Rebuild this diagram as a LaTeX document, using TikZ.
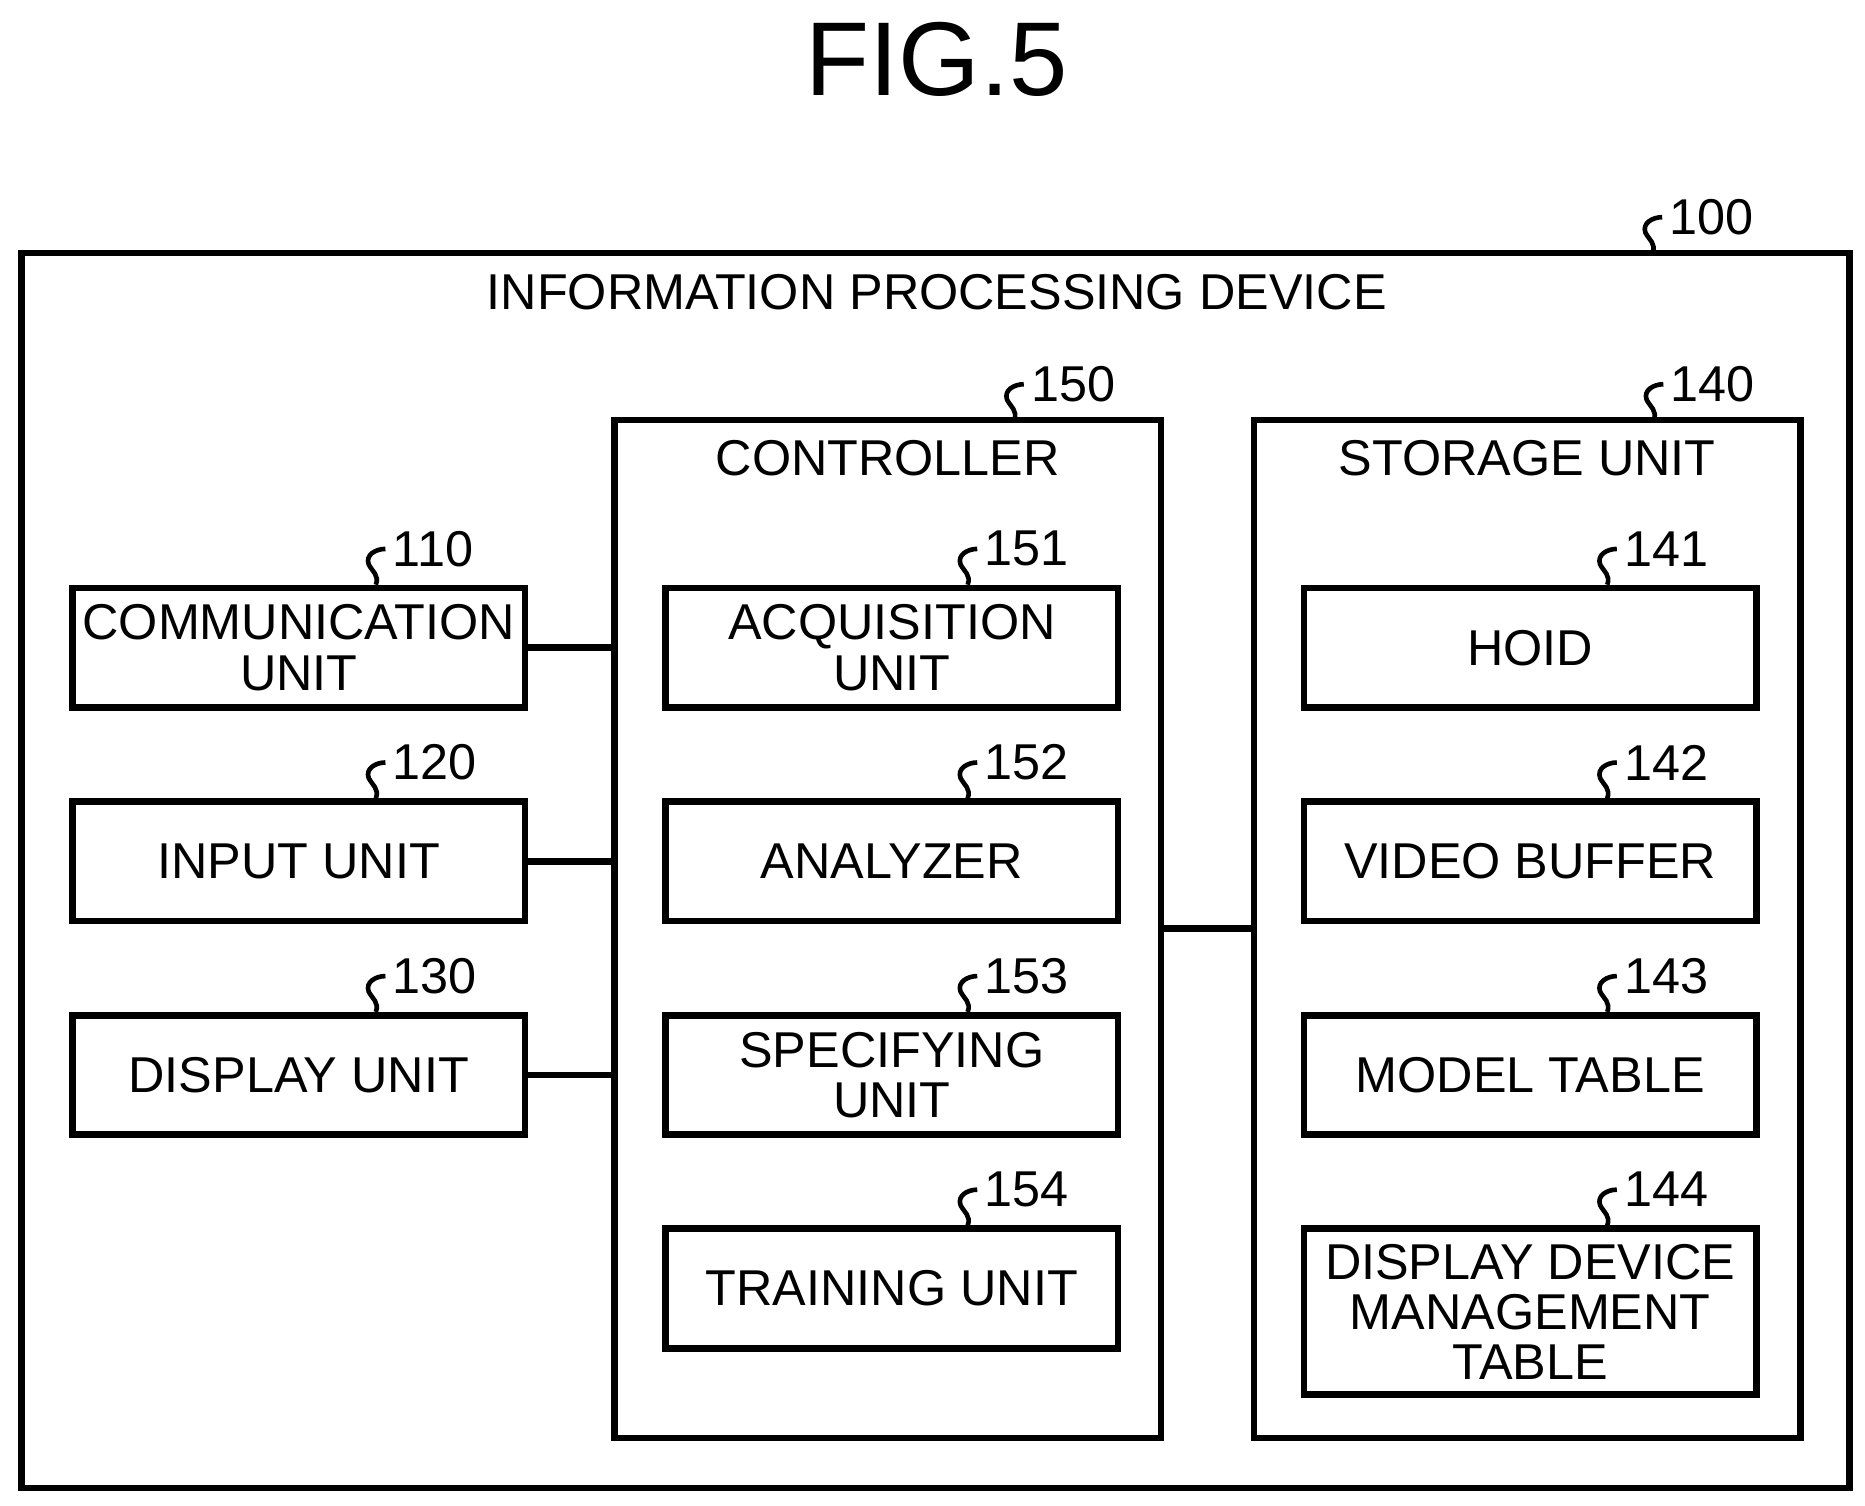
\documentclass[tikz,border=0pt]{standalone}
\usepackage{fontspec}
\setmainfont{Liberation Sans}
\begin{document}
\begin{tikzpicture}[x=0.01cm,y=-0.01cm,line width=1.6pt,
    blk/.style={draw,minimum width=3.79cm,minimum height=1cm,inner sep=0pt,
      font=\fontsize{12}{12}\selectfont,align=center,anchor=north west},
    refnum/.style={anchor=west,inner sep=1pt,font=\fontsize{12}{12}\selectfont}]
  \useasboundingbox (0,0) rectangle (1563,1262);
  \newcommand{\refmark}[3]{% box top point x, y, text
    \draw[line width=1.1pt] (#1,#2) .. controls +(3,-8) and +(3,6) .. ++(-6,-17)
      .. controls +(-3,-8) and +(-8,0) .. ++(14,-13) coordinate (rm);
    \node[refnum] at (rm) {#3};}
  \node[font=\fontsize{25}{25}\selectfont] (title) at (785,50) {FIG.5};
  % outer frames
  \draw (18,212) rectangle (1550,1247);
  \node[font=\fontsize{12}{12}\selectfont] (dev) at (785,245) {INFORMATION PROCESSING DEVICE};
  \refmark{1385}{212}{100}
  \draw (515,352) rectangle (973,1205);
  \node[font=\fontsize{12}{12}\selectfont] (ctrl) at (744,384) {CONTROLLER};
  \refmark{850}{352}{150}
  \draw (1051,352) rectangle (1509,1205);
  \node[font=\fontsize{12}{12}\selectfont] (stor) at (1280,384) {STORAGE UNIT};
  \refmark{1386}{352}{140}
  \coordinate (ctrlL) at (515,0);
  \coordinate (ctrlR) at (973,778);
  \coordinate (storL) at (1051,778);
  \draw (ctrlR) -- (storL);
  % left units
  \foreach \id / \y / \txt in {110/490/{COMMUNICATION\\UNIT}, 120/669/INPUT UNIT,
      130/848/DISPLAY UNIT}{
    \node[blk] (u\id) at (58,\y) {\txt};
    \refmark{315}{\y}{\id}
    \draw (u\id.east) -- (u\id.east -| ctrlL);
  }
  % controller units
  \foreach \id / \y / \txt in {151/490/{ACQUISITION\\UNIT}, 152/669/ANALYZER,
      153/848/{SPECIFYING\\UNIT}, 154/1027/TRAINING UNIT}{
    \node[blk] (u\id) at (555,\y) {\txt};
    \refmark{811}{\y}{\id}
  }
  % storage units
  \foreach \id / \y / \txt in {141/490/HOID, 142/669/VIDEO BUFFER, 143/848/MODEL TABLE}{
    \node[blk] (u\id) at (1090,\y) {\txt};
    \refmark{1347}{\y}{\id}
  }
  \node[blk,minimum height=1.39cm] (u144) at (1090,1027) {DISPLAY DEVICE\\MANAGEMENT\\TABLE};
  \refmark{1347}{1027}{144}
\end{tikzpicture}
\end{document}
